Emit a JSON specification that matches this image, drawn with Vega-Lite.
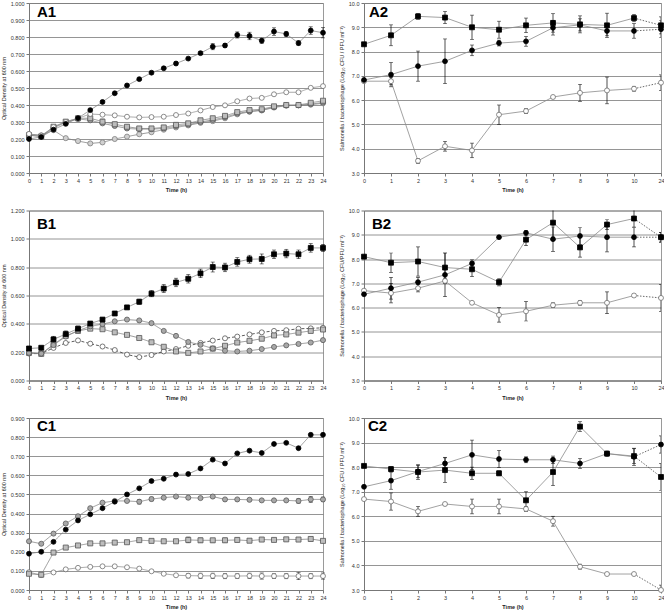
{
"$schema":"https://vega.github.io/schema/vega-lite/v6.json",
"background":"white",
"padding":{"left":0,"top":0,"right":0,"bottom":0},
"config":{
 "font":"Liberation Sans",
 "view":{"stroke":"#9a9a9a","strokeWidth":1},
 "axis":{"labelFont":"Liberation Sans","labelFontSize":5.5,"labelColor":"#333","titleFont":"Liberation Sans","titleFontSize":5.5,"titleColor":"#222","domainColor":"#777","tickColor":"#777","tickSize":3,"gridColor":"#7a7a7a","gridWidth":0.8,"labelPadding":2,"labelFlush":false,"labelOverlap":false},
 "axisX":{"grid":false,"labelAngle":0,"titlePadding":4,"titleFontWeight":"bold"},
 "axisY":{"grid":true,"titlePadding":4,"titleFontWeight":"normal"},
 "title":{"fontSize":15,"fontWeight":"bold","anchor":"start","frame":"group","color":"#000","font":"Liberation Sans"}
},
"datasets":{
"A1":[
{"s":"low","t":0,"v":0.228},{"s":"low","t":1,"v":0.222},{"s":"low","t":2,"v":0.252},{"s":"low","t":3,"v":0.205},{"s":"low","t":4,"v":0.188},{"s":"low","t":5,"v":0.174},{"s":"low","t":6,"v":0.18},{"s":"low","t":7,"v":0.2},{"s":"low","t":8,"v":0.214},{"s":"low","t":9,"v":0.228},{"s":"low","t":10,"v":0.24},{"s":"low","t":11,"v":0.255},{"s":"low","t":12,"v":0.268},{"s":"low","t":13,"v":0.28},{"s":"low","t":14,"v":0.295},{"s":"low","t":15,"v":0.305},{"s":"low","t":16,"v":0.322},{"s":"low","t":17,"v":0.345},{"s":"low","t":18,"v":0.36},{"s":"low","t":19,"v":0.368},{"s":"low","t":20,"v":0.385},{"s":"low","t":21,"v":0.396},{"s":"low","t":22,"v":0.398},{"s":"low","t":23,"v":0.402},{"s":"low","t":24,"v":0.41},
{"s":"gci","t":0,"v":0.222},{"s":"gci","t":1,"v":0.216},{"s":"gci","t":2,"v":0.265},{"s":"gci","t":3,"v":0.298},{"s":"gci","t":4,"v":0.318},{"s":"gci","t":5,"v":0.31},{"s":"gci","t":6,"v":0.292},{"s":"gci","t":7,"v":0.277},{"s":"gci","t":8,"v":0.262},{"s":"gci","t":9,"v":0.258},{"s":"gci","t":10,"v":0.258},{"s":"gci","t":11,"v":0.262},{"s":"gci","t":12,"v":0.275},{"s":"gci","t":13,"v":0.285},{"s":"gci","t":14,"v":0.3},{"s":"gci","t":15,"v":0.312},{"s":"gci","t":16,"v":0.328},{"s":"gci","t":17,"v":0.35},{"s":"gci","t":18,"v":0.363},{"s":"gci","t":19,"v":0.37},{"s":"gci","t":20,"v":0.388},{"s":"gci","t":21,"v":0.398},{"s":"gci","t":22,"v":0.398},{"s":"gci","t":23,"v":0.405},{"s":"gci","t":24,"v":0.415},
{"s":"gsq","t":0,"v":0.222},{"s":"gsq","t":1,"v":0.215},{"s":"gsq","t":2,"v":0.272},{"s":"gsq","t":3,"v":0.302},{"s":"gsq","t":4,"v":0.322},{"s":"gsq","t":5,"v":0.322,"e":0.02},{"s":"gsq","t":6,"v":0.302,"e":0.015},{"s":"gsq","t":7,"v":0.287,"e":0.012},{"s":"gsq","t":8,"v":0.272,"e":0.01},{"s":"gsq","t":9,"v":0.262},{"s":"gsq","t":10,"v":0.262},{"s":"gsq","t":11,"v":0.268},{"s":"gsq","t":12,"v":0.283},{"s":"gsq","t":13,"v":0.292},{"s":"gsq","t":14,"v":0.31},{"s":"gsq","t":15,"v":0.322},{"s":"gsq","t":16,"v":0.336},{"s":"gsq","t":17,"v":0.358},{"s":"gsq","t":18,"v":0.37},{"s":"gsq","t":19,"v":0.375},{"s":"gsq","t":20,"v":0.392},{"s":"gsq","t":21,"v":0.4},{"s":"gsq","t":22,"v":0.4},{"s":"gsq","t":23,"v":0.413},{"s":"gsq","t":24,"v":0.425},
{"s":"open","t":0,"v":0.23},{"s":"open","t":1,"v":0.22},{"s":"open","t":2,"v":0.27},{"s":"open","t":3,"v":0.3},{"s":"open","t":4,"v":0.322},{"s":"open","t":5,"v":0.347},{"s":"open","t":6,"v":0.343},{"s":"open","t":7,"v":0.339},{"s":"open","t":8,"v":0.331},{"s":"open","t":9,"v":0.327},{"s":"open","t":10,"v":0.329},{"s":"open","t":11,"v":0.331},{"s":"open","t":12,"v":0.341},{"s":"open","t":13,"v":0.35},{"s":"open","t":14,"v":0.368},{"s":"open","t":15,"v":0.388},{"s":"open","t":16,"v":0.398},{"s":"open","t":17,"v":0.422},{"s":"open","t":18,"v":0.438},{"s":"open","t":19,"v":0.442},{"s":"open","t":20,"v":0.463},{"s":"open","t":21,"v":0.475},{"s":"open","t":22,"v":0.475},{"s":"open","t":23,"v":0.501},{"s":"open","t":24,"v":0.511},
{"s":"bk","t":0,"v":0.2,"e":0.004},{"s":"bk","t":1,"v":0.212,"e":0.005},{"s":"bk","t":2,"v":0.255,"e":0.008},{"s":"bk","t":3,"v":0.289,"e":0.008},{"s":"bk","t":4,"v":0.323,"e":0.008},{"s":"bk","t":5,"v":0.37,"e":0.006},{"s":"bk","t":6,"v":0.418,"e":0.006},{"s":"bk","t":7,"v":0.469,"e":0.006},{"s":"bk","t":8,"v":0.515,"e":0.006},{"s":"bk","t":9,"v":0.552,"e":0.006},{"s":"bk","t":10,"v":0.59,"e":0.008},{"s":"bk","t":11,"v":0.616,"e":0.008},{"s":"bk","t":12,"v":0.644,"e":0.01},{"s":"bk","t":13,"v":0.673,"e":0.008},{"s":"bk","t":14,"v":0.705,"e":0.01},{"s":"bk","t":15,"v":0.743,"e":0.018},{"s":"bk","t":16,"v":0.75,"e":0.012},{"s":"bk","t":17,"v":0.812,"e":0.018},{"s":"bk","t":18,"v":0.806,"e":0.022},{"s":"bk","t":19,"v":0.778,"e":0.015},{"s":"bk","t":20,"v":0.832,"e":0.022},{"s":"bk","t":21,"v":0.818,"e":0.015},{"s":"bk","t":22,"v":0.764,"e":0.015},{"s":"bk","t":23,"v":0.838,"e":0.022},{"s":"bk","t":24,"v":0.825,"e":0.03}
],
"B1":[
{"s":"opend","t":0,"v":0.19},{"s":"opend","t":1,"v":0.19},{"s":"opend","t":2,"v":0.23},{"s":"opend","t":3,"v":0.265},{"s":"opend","t":4,"v":0.283},{"s":"opend","t":5,"v":0.26},{"s":"opend","t":6,"v":0.24},{"s":"opend","t":7,"v":0.215},{"s":"opend","t":8,"v":0.183},{"s":"opend","t":9,"v":0.165},{"s":"opend","t":10,"v":0.18},{"s":"opend","t":11,"v":0.205},{"s":"opend","t":12,"v":0.222},{"s":"opend","t":13,"v":0.245},{"s":"opend","t":14,"v":0.265},{"s":"opend","t":15,"v":0.282},{"s":"opend","t":16,"v":0.298},{"s":"opend","t":17,"v":0.31},{"s":"opend","t":18,"v":0.325},{"s":"opend","t":19,"v":0.34},{"s":"opend","t":20,"v":0.35},{"s":"opend","t":21,"v":0.355},{"s":"opend","t":22,"v":0.365},{"s":"opend","t":23,"v":0.368},{"s":"opend","t":24,"v":0.372},
{"s":"gsq","t":0,"v":0.195},{"s":"gsq","t":1,"v":0.188},{"s":"gsq","t":2,"v":0.255},{"s":"gsq","t":3,"v":0.315},{"s":"gsq","t":4,"v":0.35},{"s":"gsq","t":5,"v":0.366},{"s":"gsq","t":6,"v":0.362},{"s":"gsq","t":7,"v":0.34},{"s":"gsq","t":8,"v":0.322},{"s":"gsq","t":9,"v":0.3},{"s":"gsq","t":10,"v":0.27},{"s":"gsq","t":11,"v":0.238},{"s":"gsq","t":12,"v":0.205},{"s":"gsq","t":13,"v":0.195},{"s":"gsq","t":14,"v":0.205},{"s":"gsq","t":15,"v":0.225},{"s":"gsq","t":16,"v":0.245},{"s":"gsq","t":17,"v":0.268},{"s":"gsq","t":18,"v":0.28},{"s":"gsq","t":19,"v":0.295},{"s":"gsq","t":20,"v":0.318},{"s":"gsq","t":21,"v":0.325},{"s":"gsq","t":22,"v":0.338},{"s":"gsq","t":23,"v":0.35},{"s":"gsq","t":24,"v":0.36},
{"s":"gci","t":0,"v":0.195},{"s":"gci","t":1,"v":0.19},{"s":"gci","t":2,"v":0.25},{"s":"gci","t":3,"v":0.31},{"s":"gci","t":4,"v":0.352},{"s":"gci","t":5,"v":0.382},{"s":"gci","t":6,"v":0.398},{"s":"gci","t":7,"v":0.418},{"s":"gci","t":8,"v":0.43},{"s":"gci","t":9,"v":0.424},{"s":"gci","t":10,"v":0.405},{"s":"gci","t":11,"v":0.35},{"s":"gci","t":12,"v":0.315},{"s":"gci","t":13,"v":0.272},{"s":"gci","t":14,"v":0.252},{"s":"gci","t":15,"v":0.226},{"s":"gci","t":16,"v":0.21},{"s":"gci","t":17,"v":0.205},{"s":"gci","t":18,"v":0.21},{"s":"gci","t":19,"v":0.222},{"s":"gci","t":20,"v":0.237},{"s":"gci","t":21,"v":0.248},{"s":"gci","t":22,"v":0.258},{"s":"gci","t":23,"v":0.268},{"s":"gci","t":24,"v":0.285},
{"s":"bksq","t":0,"v":0.226,"e":0.015},{"s":"bksq","t":1,"v":0.231,"e":0.012},{"s":"bksq","t":2,"v":0.29,"e":0.022},{"s":"bksq","t":3,"v":0.328,"e":0.022},{"s":"bksq","t":4,"v":0.366,"e":0.018},{"s":"bksq","t":5,"v":0.402,"e":0.015},{"s":"bksq","t":6,"v":0.43,"e":0.012},{"s":"bksq","t":7,"v":0.473,"e":0.012},{"s":"bksq","t":8,"v":0.516,"e":0.012},{"s":"bksq","t":9,"v":0.556,"e":0.018},{"s":"bksq","t":10,"v":0.613,"e":0.022},{"s":"bksq","t":11,"v":0.649,"e":0.028},{"s":"bksq","t":12,"v":0.692,"e":0.03},{"s":"bksq","t":13,"v":0.718,"e":0.03},{"s":"bksq","t":14,"v":0.756,"e":0.03},{"s":"bksq","t":15,"v":0.801,"e":0.035},{"s":"bksq","t":16,"v":0.798,"e":0.03},{"s":"bksq","t":17,"v":0.837,"e":0.03},{"s":"bksq","t":18,"v":0.856,"e":0.028},{"s":"bksq","t":19,"v":0.858,"e":0.035},{"s":"bksq","t":20,"v":0.891,"e":0.03},{"s":"bksq","t":21,"v":0.896,"e":0.03},{"s":"bksq","t":22,"v":0.891,"e":0.03},{"s":"bksq","t":23,"v":0.936,"e":0.03},{"s":"bksq","t":24,"v":0.936,"e":0.025}
],
"C1":[
{"s":"open","t":0,"v":0.093},{"s":"open","t":1,"v":0.078},{"s":"open","t":2,"v":0.092},{"s":"open","t":3,"v":0.108},{"s":"open","t":4,"v":0.116},{"s":"open","t":5,"v":0.121},{"s":"open","t":6,"v":0.124},{"s":"open","t":7,"v":0.124},{"s":"open","t":8,"v":0.119},{"s":"open","t":9,"v":0.112},{"s":"open","t":10,"v":0.098},{"s":"open","t":11,"v":0.085},{"s":"open","t":12,"v":0.077},{"s":"open","t":13,"v":0.075,"e":0.012},{"s":"open","t":14,"v":0.074,"e":0.014},{"s":"open","t":15,"v":0.074,"e":0.014},{"s":"open","t":16,"v":0.073,"e":0.014},{"s":"open","t":17,"v":0.073,"e":0.012},{"s":"open","t":18,"v":0.074,"e":0.014},{"s":"open","t":19,"v":0.073,"e":0.016},{"s":"open","t":20,"v":0.073,"e":0.012},{"s":"open","t":21,"v":0.073,"e":0.014},{"s":"open","t":22,"v":0.073,"e":0.018},{"s":"open","t":23,"v":0.073,"e":0.014},{"s":"open","t":24,"v":0.073,"e":0.016},
{"s":"gsq","t":0,"v":0.085},{"s":"gsq","t":1,"v":0.08},{"s":"gsq","t":2,"v":0.196},{"s":"gsq","t":3,"v":0.222},{"s":"gsq","t":4,"v":0.233},{"s":"gsq","t":5,"v":0.244},{"s":"gsq","t":6,"v":0.244},{"s":"gsq","t":7,"v":0.248},{"s":"gsq","t":8,"v":0.25},{"s":"gsq","t":9,"v":0.261},{"s":"gsq","t":10,"v":0.257},{"s":"gsq","t":11,"v":0.255},{"s":"gsq","t":12,"v":0.255},{"s":"gsq","t":13,"v":0.262,"e":0.015},{"s":"gsq","t":14,"v":0.26,"e":0.012},{"s":"gsq","t":15,"v":0.26,"e":0.01},{"s":"gsq","t":16,"v":0.26,"e":0.012},{"s":"gsq","t":17,"v":0.262,"e":0.01},{"s":"gsq","t":18,"v":0.258,"e":0.008},{"s":"gsq","t":19,"v":0.264,"e":0.01},{"s":"gsq","t":20,"v":0.262,"e":0.008},{"s":"gsq","t":21,"v":0.265,"e":0.008},{"s":"gsq","t":22,"v":0.264,"e":0.01},{"s":"gsq","t":23,"v":0.267,"e":0.01},{"s":"gsq","t":24,"v":0.257},
{"s":"gci","t":0,"v":0.255},{"s":"gci","t":1,"v":0.242},{"s":"gci","t":2,"v":0.295},{"s":"gci","t":3,"v":0.348},{"s":"gci","t":4,"v":0.386},{"s":"gci","t":5,"v":0.428},{"s":"gci","t":6,"v":0.457},{"s":"gci","t":7,"v":0.466},{"s":"gci","t":8,"v":0.466},{"s":"gci","t":9,"v":0.462,"e":0.012},{"s":"gci","t":10,"v":0.476,"e":0.01},{"s":"gci","t":11,"v":0.483},{"s":"gci","t":12,"v":0.489},{"s":"gci","t":13,"v":0.483,"e":0.008},{"s":"gci","t":14,"v":0.481},{"s":"gci","t":15,"v":0.489},{"s":"gci","t":16,"v":0.474},{"s":"gci","t":17,"v":0.474},{"s":"gci","t":18,"v":0.472},{"s":"gci","t":19,"v":0.469},{"s":"gci","t":20,"v":0.469},{"s":"gci","t":21,"v":0.469},{"s":"gci","t":22,"v":0.466,"e":0.012},{"s":"gci","t":23,"v":0.474,"e":0.015},{"s":"gci","t":24,"v":0.474,"e":0.012},
{"s":"bk","t":0,"v":0.19},{"s":"bk","t":1,"v":0.2},{"s":"bk","t":2,"v":0.252},{"s":"bk","t":3,"v":0.316},{"s":"bk","t":4,"v":0.364},{"s":"bk","t":5,"v":0.396},{"s":"bk","t":6,"v":0.428},{"s":"bk","t":7,"v":0.462},{"s":"bk","t":8,"v":0.5},{"s":"bk","t":9,"v":0.532},{"s":"bk","t":10,"v":0.57},{"s":"bk","t":11,"v":0.582},{"s":"bk","t":12,"v":0.604},{"s":"bk","t":13,"v":0.607},{"s":"bk","t":14,"v":0.636},{"s":"bk","t":15,"v":0.682},{"s":"bk","t":16,"v":0.662},{"s":"bk","t":17,"v":0.715},{"s":"bk","t":18,"v":0.729},{"s":"bk","t":19,"v":0.717},{"s":"bk","t":20,"v":0.764},{"s":"bk","t":21,"v":0.77},{"s":"bk","t":22,"v":0.742},{"s":"bk","t":23,"v":0.812},{"s":"bk","t":24,"v":0.812}
],
"A2":[
{"s":"open","t":0,"v":6.78},{"s":"open","t":1,"v":6.78,"e":0.15},{"s":"open","t":2,"v":3.5,"e":0.1},{"s":"open","t":3,"v":4.1,"e":0.2},{"s":"open","t":4,"v":3.93,"e":0.3},{"s":"open","t":5,"v":5.4,"e":0.4},{"s":"open","t":6,"v":5.55,"e":0.1},{"s":"open","t":7,"v":6.13,"e":0.05},{"s":"open","t":8,"v":6.3,"e":0.35},{"s":"open","t":9,"v":6.4,"e":0.55},{"s":"open","t":10,"v":6.47,"e":0.1},{"s":"open","t":24,"v":6.72,"e":0.32},
{"s":"bk","t":0,"v":6.83,"e":0.05},{"s":"bk","t":1,"v":7.05,"e":0.5},{"s":"bk","t":2,"v":7.4,"e":0.62},{"s":"bk","t":3,"v":7.6,"e":0.92},{"s":"bk","t":4,"v":8.05,"e":0.22},{"s":"bk","t":5,"v":8.35,"e":0.12},{"s":"bk","t":6,"v":8.42,"e":0.2},{"s":"bk","t":7,"v":8.98,"e":0.3},{"s":"bk","t":8,"v":9.1,"e":0.25},{"s":"bk","t":9,"v":8.85,"e":0.2},{"s":"bk","t":10,"v":8.85,"e":0.3},{"s":"bk","t":24,"v":8.92,"e":0.35},
{"s":"bksq","t":0,"v":8.3},{"s":"bksq","t":1,"v":8.67,"e":0.43},{"s":"bksq","t":2,"v":9.45,"e":0.12},{"s":"bksq","t":3,"v":9.4,"e":0.25},{"s":"bksq","t":4,"v":9.0,"e":0.5},{"s":"bksq","t":5,"v":8.9,"e":0.35},{"s":"bksq","t":6,"v":9.08,"e":0.3},{"s":"bksq","t":7,"v":9.18,"e":0.38},{"s":"bksq","t":8,"v":9.12,"e":0.35},{"s":"bksq","t":9,"v":9.08,"e":0.5},{"s":"bksq","t":10,"v":9.38,"e":0.15},{"s":"bksq","t":24,"v":9.08,"e":0.35}
],
"B2":[
{"s":"open","t":0,"v":6.7,"e":0.05},{"s":"open","t":1,"v":6.6,"e":0.4},{"s":"open","t":2,"v":6.8,"e":0.15},{"s":"open","t":3,"v":7.1,"e":0.1},{"s":"open","t":4,"v":6.2,"e":0.05},{"s":"open","t":5,"v":5.7,"e":0.3},{"s":"open","t":6,"v":5.85,"e":0.4},{"s":"open","t":7,"v":6.1,"e":0.1},{"s":"open","t":8,"v":6.2,"e":0.1},{"s":"open","t":9,"v":6.2,"e":0.45},{"s":"open","t":10,"v":6.5,"e":0.05},{"s":"open","t":24,"v":6.4,"e":0.55},
{"s":"bk","t":0,"v":6.55,"e":0.05},{"s":"bk","t":1,"v":6.8,"e":0.45},{"s":"bk","t":2,"v":7.05,"e":0.2},{"s":"bk","t":3,"v":7.35,"e":0.9},{"s":"bk","t":4,"v":7.82,"e":0.15},{"s":"bk","t":5,"v":8.9,"e":0.05},{"s":"bk","t":6,"v":9.08,"e":0.1},{"s":"bk","t":7,"v":8.82,"e":0.5},{"s":"bk","t":8,"v":8.95,"e":0.35},{"s":"bk","t":9,"v":8.9,"e":0.6},{"s":"bk","t":10,"v":8.9,"e":0.4},{"s":"bk","t":24,"v":8.9,"e":0.2},
{"s":"bksq","t":0,"v":8.1,"e":0.05},{"s":"bksq","t":1,"v":7.85,"e":0.4},{"s":"bksq","t":2,"v":7.9,"e":0.6},{"s":"bksq","t":3,"v":7.65,"e":0.6},{"s":"bksq","t":4,"v":7.58,"e":0.3},{"s":"bksq","t":5,"v":7.05,"e":0.15},{"s":"bksq","t":6,"v":8.8,"e":0.25},{"s":"bksq","t":7,"v":9.5,"e":0.6},{"s":"bksq","t":8,"v":8.48,"e":0.4},{"s":"bksq","t":9,"v":9.42,"e":0.2},{"s":"bksq","t":10,"v":9.67,"e":0.35},{"s":"bksq","t":24,"v":8.9,"e":0.2}
],
"C2":[
{"s":"open","t":0,"v":6.7,"e":0.05},{"s":"open","t":1,"v":6.6,"e":0.35},{"s":"open","t":2,"v":6.2,"e":0.2},{"s":"open","t":3,"v":6.5,"e":0.05},{"s":"open","t":4,"v":6.4,"e":0.3},{"s":"open","t":5,"v":6.4,"e":0.3},{"s":"open","t":6,"v":6.3,"e":0.1},{"s":"open","t":7,"v":5.8,"e":0.2},{"s":"open","t":8,"v":3.95,"e":0.1},{"s":"open","t":9,"v":3.65,"e":0.02},{"s":"open","t":10,"v":3.65,"e":0.02},{"s":"open","t":24,"v":3.0,"e":0.2},
{"s":"bk","t":0,"v":7.2,"e":0.05},{"s":"bk","t":1,"v":7.45,"e":0.35},{"s":"bk","t":2,"v":7.82,"e":0.25},{"s":"bk","t":3,"v":8.15,"e":0.25},{"s":"bk","t":4,"v":8.5,"e":0.6},{"s":"bk","t":5,"v":8.33,"e":0.35},{"s":"bk","t":6,"v":8.3,"e":0.12},{"s":"bk","t":7,"v":8.3,"e":0.15},{"s":"bk","t":8,"v":8.15,"e":0.2},{"s":"bk","t":9,"v":8.55,"e":0.05},{"s":"bk","t":10,"v":8.42,"e":0.35},{"s":"bk","t":24,"v":8.92,"e":0.35},
{"s":"bksq","t":0,"v":8.05,"e":0.05},{"s":"bksq","t":1,"v":7.92,"e":0.1},{"s":"bksq","t":2,"v":7.8,"e":0.3},{"s":"bksq","t":3,"v":7.88,"e":0.5},{"s":"bksq","t":4,"v":7.75,"e":0.25},{"s":"bksq","t":5,"v":7.75,"e":0.1},{"s":"bksq","t":6,"v":6.65,"e":0.35},{"s":"bksq","t":7,"v":7.8,"e":0.55},{"s":"bksq","t":8,"v":9.65,"e":0.2},{"s":"bksq","t":9,"v":8.55,"e":0.1},{"s":"bksq","t":10,"v":8.45,"e":0.3},{"s":"bksq","t":24,"v":7.6,"e":0.55}
]
},
"concat":[
{
 "width":294,"height":170,
 "title":{"text":"A1","offset":-19,"dx":8},
 "data":{"name":"A1"},
 "encoding":{
  "x":{"field":"t","type":"quantitative","scale":{"domain":[0,24],"nice":false,"zero":false},"axis":{"values":[0,1,2,3,4,5,6,7,8,9,10,11,12,13,14,15,16,17,18,19,20,21,22,23,24],"format":"d","title":"Time (h)"}},
  "y":{"field":"v","type":"quantitative","scale":{"domain":[0,1],"nice":false,"zero":false},"axis":{"values":[0,0.1,0.2,0.3,0.4,0.5,0.6,0.7,0.8,0.9,1],"format":".3f","title":"Optical Density at 600 nm"}}
 },
 "layer":[
  {"mark":{"type":"line","strokeWidth":0.8},"encoding":{"color":{"field":"s","type":"nominal","legend":null,"scale":{"domain":["bk","bksq","open","opend","gsq","gci","low"],"range":["#808080","#808080","#909090","#333333","#808080","#808080","#808080"]}},"strokeDash":{"field":"s","type":"nominal","legend":null,"scale":{"domain":["bk","bksq","open","opend","gsq","gci","low"],"range":[[1,0],[1,0],[1,0],[3,2],[1,0],[1,0],[1,0]]}}}},
  {"transform":[{"filter":"datum.e > 0"}],"mark":{"type":"errorbar","ticks":{"size":4},"color":"#000","thickness":0.7},"encoding":{"yError":{"field":"e"}}},
  {"mark":{"type":"point","filled":true,"opacity":1,"strokeWidth":0.8},"encoding":{
   "shape":{"field":"s","type":"nominal","legend":null,"scale":{"domain":["bk","bksq","open","opend","gsq","gci","low"],"range":["circle","square","circle","circle","square","circle","circle"]}},
   "fill":{"field":"s","type":"nominal","legend":null,"scale":{"domain":["bk","bksq","open","opend","gsq","gci","low"],"range":["#000000","#000000","#ffffff","#ffffff","#bdbdbd","#a8a8a8","#d0d0d0"]}},
   "stroke":{"field":"s","type":"nominal","legend":null,"scale":{"domain":["bk","bksq","open","opend","gsq","gci","low"],"range":["#000000","#000000","#707070","#555555","#555555","#5a5a5a","#808080"]}},
   "size":{"field":"s","type":"nominal","legend":null,"scale":{"domain":["bk","bksq","open","opend","gsq","gci","low"],"range":[24,26,19,17,19,17,14]}}}}
 ]
},
{
 "width":297,"height":170,
 "title":{"text":"A2","offset":-19,"dx":5},
 "data":{"name":"A2"},
 "encoding":{
  "x":{"field":"t","type":"ordinal","scale":{"type":"point","padding":0,"domain":[0,1,2,3,4,5,6,7,8,9,10,24]},"axis":{"title":"Time (h)"}},
  "y":{"field":"v","type":"quantitative","scale":{"domain":[3,10],"nice":false,"zero":false},"axis":{"values":[3,4,5,6,7,8,9,10],"format":".1f","title":"Salmonella / bacteriophage (Log₁₀ CFU / PFU ml⁻¹)"}}
 },
 "layer":[
  {"transform":[{"filter":"datum.t <= 10"}],"mark":{"type":"line","color":"#8a8a8a","strokeWidth":0.8},"encoding":{"detail":{"field":"s"}}},
  {"transform":[{"filter":"datum.t >= 10"}],"mark":{"type":"line","color":"#444","strokeWidth":0.8,"strokeDash":[1.5,1.5]},"encoding":{"detail":{"field":"s"}}},
  {"transform":[{"filter":"datum.e > 0"}],"mark":{"type":"errorbar","ticks":{"size":4},"color":"#000","thickness":0.7,"clip":true},"encoding":{"yError":{"field":"e"}}},
  {"mark":{"type":"point","filled":true,"opacity":1,"strokeWidth":0.8},"encoding":{
   "shape":{"field":"s","type":"nominal","legend":null,"scale":{"domain":["bk","bksq","open","opend","gsq","gci","low"],"range":["circle","square","circle","circle","square","circle","circle"]}},
   "fill":{"field":"s","type":"nominal","legend":null,"scale":{"domain":["bk","bksq","open","opend","gsq","gci","low"],"range":["#000000","#000000","#ffffff","#ffffff","#bdbdbd","#a8a8a8","#d0d0d0"]}},
   "stroke":{"field":"s","type":"nominal","legend":null,"scale":{"domain":["bk","bksq","open","opend","gsq","gci","low"],"range":["#000000","#000000","#707070","#555555","#555555","#5a5a5a","#808080"]}},
   "size":{"field":"s","type":"nominal","legend":null,"scale":{"domain":["bk","bksq","open","opend","gsq","gci","low"],"range":[24,26,19,17,19,17,14]}}}}
 ]
},
{
 "width":294,"height":170,
 "title":{"text":"B1","offset":-23,"dx":8},
 "data":{"name":"B1"},
 "encoding":{
  "x":{"field":"t","type":"quantitative","scale":{"domain":[0,24],"nice":false,"zero":false},"axis":{"values":[0,1,2,3,4,5,6,7,8,9,10,11,12,13,14,15,16,17,18,19,20,21,22,23,24],"format":"d","title":"Time (h)"}},
  "y":{"field":"v","type":"quantitative","scale":{"domain":[0,1.2],"nice":false,"zero":false},"axis":{"values":[0,0.2,0.4,0.6,0.8,1,1.2],"format":".3f","title":"Optical Density at 600 nm"}}
 },
 "layer":[
  {"mark":{"type":"line","strokeWidth":0.8},"encoding":{"color":{"field":"s","type":"nominal","legend":null,"scale":{"domain":["bk","bksq","open","opend","gsq","gci","low"],"range":["#808080","#808080","#909090","#333333","#808080","#808080","#808080"]}},"strokeDash":{"field":"s","type":"nominal","legend":null,"scale":{"domain":["bk","bksq","open","opend","gsq","gci","low"],"range":[[1,0],[1,0],[1,0],[3,2],[1,0],[1,0],[1,0]]}}}},
  {"transform":[{"filter":"datum.e > 0"}],"mark":{"type":"errorbar","ticks":{"size":4},"color":"#000","thickness":0.7},"encoding":{"yError":{"field":"e"}}},
  {"mark":{"type":"point","filled":true,"opacity":1,"strokeWidth":0.8},"encoding":{
   "shape":{"field":"s","type":"nominal","legend":null,"scale":{"domain":["bk","bksq","open","opend","gsq","gci","low"],"range":["circle","square","circle","circle","square","circle","circle"]}},
   "fill":{"field":"s","type":"nominal","legend":null,"scale":{"domain":["bk","bksq","open","opend","gsq","gci","low"],"range":["#000000","#000000","#ffffff","#ffffff","#bdbdbd","#a8a8a8","#d0d0d0"]}},
   "stroke":{"field":"s","type":"nominal","legend":null,"scale":{"domain":["bk","bksq","open","opend","gsq","gci","low"],"range":["#000000","#000000","#707070","#555555","#555555","#5a5a5a","#808080"]}},
   "size":{"field":"s","type":"nominal","legend":null,"scale":{"domain":["bk","bksq","open","opend","gsq","gci","low"],"range":[24,26,19,17,19,17,14]}}}}
 ]
},
{
 "width":297,"height":170,
 "title":{"text":"B2","offset":-23,"dx":8},
 "data":{"name":"B2"},
 "encoding":{
  "x":{"field":"t","type":"ordinal","scale":{"type":"point","padding":0,"domain":[0,1,2,3,4,5,6,7,8,9,10,24]},"axis":{"title":"Time (h)"}},
  "y":{"field":"v","type":"quantitative","scale":{"domain":[3,10],"nice":false,"zero":false},"axis":{"values":[3,4,5,6,7,8,9,10],"format":".1f","title":"Salmonella / bacteriophage (Log₁₀ CFU/PFU ml⁻¹)"}}
 },
 "layer":[
  {"transform":[{"filter":"datum.t <= 10"}],"mark":{"type":"line","color":"#8a8a8a","strokeWidth":0.8},"encoding":{"detail":{"field":"s"}}},
  {"transform":[{"filter":"datum.t >= 10"}],"mark":{"type":"line","color":"#444","strokeWidth":0.8,"strokeDash":[1.5,1.5]},"encoding":{"detail":{"field":"s"}}},
  {"transform":[{"filter":"datum.e > 0"}],"mark":{"type":"errorbar","ticks":{"size":4},"color":"#000","thickness":0.7,"clip":true},"encoding":{"yError":{"field":"e"}}},
  {"mark":{"type":"point","filled":true,"opacity":1,"strokeWidth":0.8},"encoding":{
   "shape":{"field":"s","type":"nominal","legend":null,"scale":{"domain":["bk","bksq","open","opend","gsq","gci","low"],"range":["circle","square","circle","circle","square","circle","circle"]}},
   "fill":{"field":"s","type":"nominal","legend":null,"scale":{"domain":["bk","bksq","open","opend","gsq","gci","low"],"range":["#000000","#000000","#ffffff","#ffffff","#bdbdbd","#a8a8a8","#d0d0d0"]}},
   "stroke":{"field":"s","type":"nominal","legend":null,"scale":{"domain":["bk","bksq","open","opend","gsq","gci","low"],"range":["#000000","#000000","#707070","#555555","#555555","#5a5a5a","#808080"]}},
   "size":{"field":"s","type":"nominal","legend":null,"scale":{"domain":["bk","bksq","open","opend","gsq","gci","low"],"range":[24,26,19,17,19,17,14]}}}}
 ]
},
{
 "width":294,"height":172,
 "title":{"text":"C1","offset":-18,"dx":8},
 "data":{"name":"C1"},
 "encoding":{
  "x":{"field":"t","type":"quantitative","scale":{"domain":[0,24],"nice":false,"zero":false},"axis":{"values":[0,1,2,3,4,5,6,7,8,9,10,11,12,13,14,15,16,17,18,19,20,21,22,23,24],"format":"d","title":"Time (h)"}},
  "y":{"field":"v","type":"quantitative","scale":{"domain":[0,0.9],"nice":false,"zero":false},"axis":{"values":[0,0.1,0.2,0.3,0.4,0.5,0.6,0.7,0.8,0.9],"format":".3f","title":"Optical Density at 600 nm"}}
 },
 "layer":[
  {"mark":{"type":"line","strokeWidth":0.8},"encoding":{"color":{"field":"s","type":"nominal","legend":null,"scale":{"domain":["bk","bksq","open","opend","gsq","gci","low"],"range":["#808080","#808080","#909090","#333333","#808080","#808080","#808080"]}},"strokeDash":{"field":"s","type":"nominal","legend":null,"scale":{"domain":["bk","bksq","open","opend","gsq","gci","low"],"range":[[1,0],[1,0],[1,0],[3,2],[1,0],[1,0],[1,0]]}}}},
  {"transform":[{"filter":"datum.e > 0"}],"mark":{"type":"errorbar","ticks":{"size":4},"color":"#000","thickness":0.7},"encoding":{"yError":{"field":"e"}}},
  {"mark":{"type":"point","filled":true,"opacity":1,"strokeWidth":0.8},"encoding":{
   "shape":{"field":"s","type":"nominal","legend":null,"scale":{"domain":["bk","bksq","open","opend","gsq","gci","low"],"range":["circle","square","circle","circle","square","circle","circle"]}},
   "fill":{"field":"s","type":"nominal","legend":null,"scale":{"domain":["bk","bksq","open","opend","gsq","gci","low"],"range":["#000000","#000000","#ffffff","#ffffff","#bdbdbd","#a8a8a8","#d0d0d0"]}},
   "stroke":{"field":"s","type":"nominal","legend":null,"scale":{"domain":["bk","bksq","open","opend","gsq","gci","low"],"range":["#000000","#000000","#707070","#555555","#555555","#5a5a5a","#808080"]}},
   "size":{"field":"s","type":"nominal","legend":null,"scale":{"domain":["bk","bksq","open","opend","gsq","gci","low"],"range":[24,26,19,17,19,17,14]}}}}
 ]
},
{
 "width":297,"height":172,
 "title":{"text":"C2","offset":-18,"dx":4},
 "data":{"name":"C2"},
 "encoding":{
  "x":{"field":"t","type":"ordinal","scale":{"type":"point","padding":0,"domain":[0,1,2,3,4,5,6,7,8,9,10,24]},"axis":{"title":"Time (h)"}},
  "y":{"field":"v","type":"quantitative","scale":{"domain":[3,10],"nice":false,"zero":false},"axis":{"values":[3,4,5,6,7,8,9,10],"format":".1f","title":"Salmonella / bacteriophage (Log₁₀ CFU / PFU ml⁻¹)"}}
 },
 "layer":[
  {"transform":[{"filter":"datum.t <= 10"}],"mark":{"type":"line","color":"#8a8a8a","strokeWidth":0.8},"encoding":{"detail":{"field":"s"}}},
  {"transform":[{"filter":"datum.t >= 10"}],"mark":{"type":"line","color":"#444","strokeWidth":0.8,"strokeDash":[1.5,1.5]},"encoding":{"detail":{"field":"s"}}},
  {"transform":[{"filter":"datum.e > 0"}],"mark":{"type":"errorbar","ticks":{"size":4},"color":"#000","thickness":0.7,"clip":true},"encoding":{"yError":{"field":"e"}}},
  {"mark":{"type":"point","filled":true,"opacity":1,"strokeWidth":0.8},"encoding":{
   "shape":{"field":"s","type":"nominal","legend":null,"scale":{"domain":["bk","bksq","open","opend","gsq","gci","low"],"range":["circle","square","circle","circle","square","circle","circle"]}},
   "fill":{"field":"s","type":"nominal","legend":null,"scale":{"domain":["bk","bksq","open","opend","gsq","gci","low"],"range":["#000000","#000000","#ffffff","#ffffff","#bdbdbd","#a8a8a8","#d0d0d0"]}},
   "stroke":{"field":"s","type":"nominal","legend":null,"scale":{"domain":["bk","bksq","open","opend","gsq","gci","low"],"range":["#000000","#000000","#707070","#555555","#555555","#5a5a5a","#808080"]}},
   "size":{"field":"s","type":"nominal","legend":null,"scale":{"domain":["bk","bksq","open","opend","gsq","gci","low"],"range":[24,26,19,17,19,17,14]}}}}
 ]
}
],
"columns":2,
"spacing":{"row":37.5,"column":41},
"bounds":"flush"
}
